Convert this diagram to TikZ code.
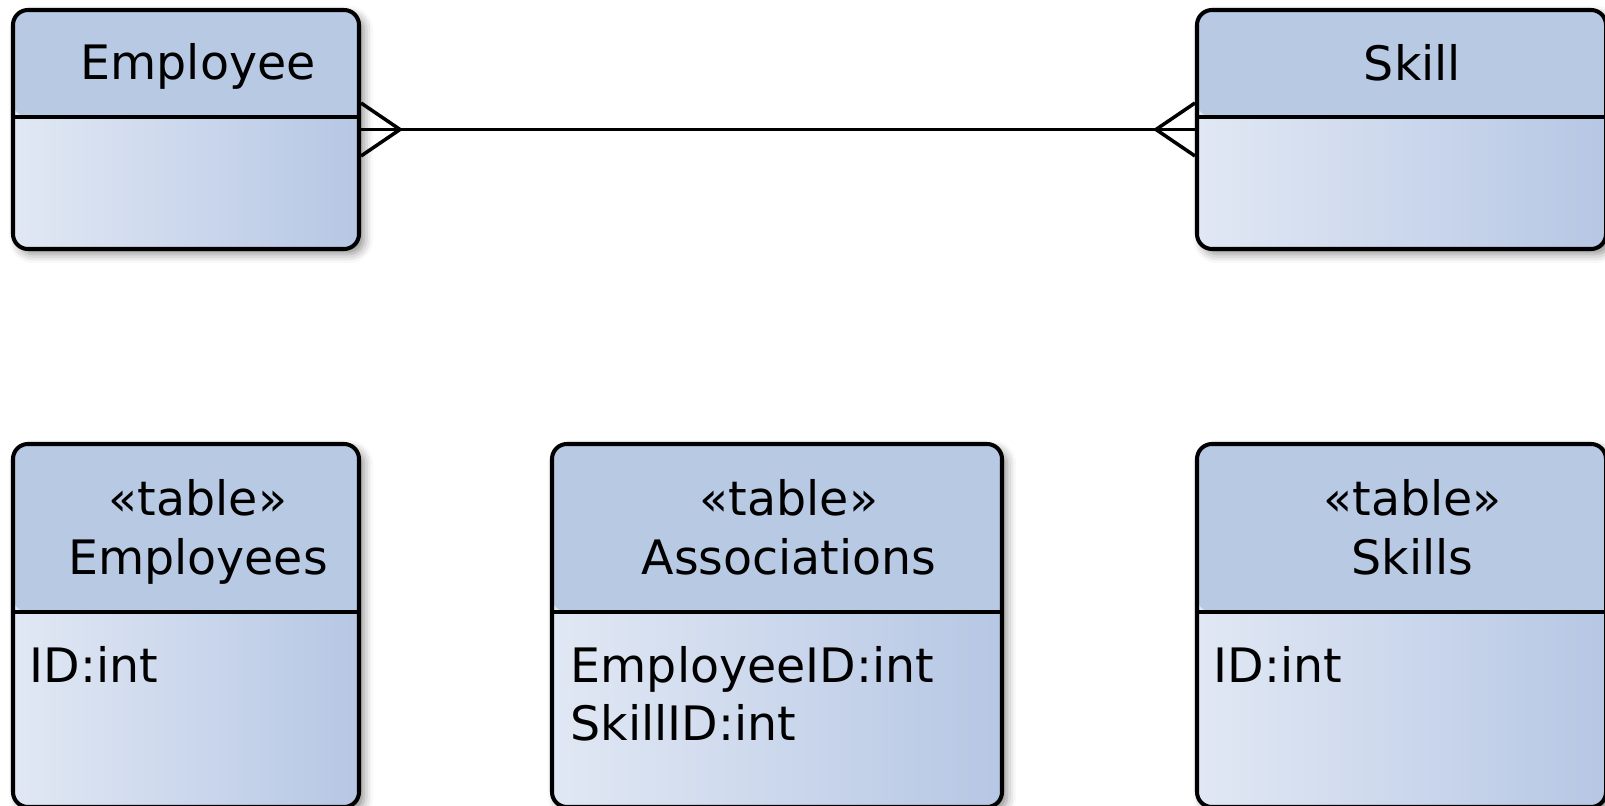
\documentclass[tikz,border=0pt]{standalone}
\usepackage{fontspec}
\setmainfont{DejaVu Sans}
\usepackage{tikz}
\usetikzlibrary{calc}
\usetikzlibrary{positioning}
\usetikzlibrary{shadows.blur}
\definecolor{headblue}{RGB}{184,201,227}
\definecolor{bodylight}{RGB}{225,232,244}
\definecolor{bodydark}{RGB}{182,199,228}
\tikzset{entity/.style={draw, line width=1.15pt, rounded corners=0.15cm, inner sep=0,
  left color=bodylight, right color=bodydark,
  blur shadow={shadow xshift=0.05cm, shadow yshift=-0.05cm, shadow blur radius=0.09cm, shadow opacity=45},
  path picture={
    \fill [headblue] (path picture bounding box.north west) rectangle ([yshift=-#1]path picture bounding box.north east);
    \draw [line width=1.15pt] ([yshift=-#1]path picture bounding box.north west) -- ([yshift=-#1]path picture bounding box.north east);
  }}}
\tikzstyle{label} = [draw=none, inner sep=0, anchor=base, font=\fontsize{13.5}{16.5}\selectfont]
\tikzstyle{attr} = [draw=none, inner sep=0, anchor=base west, font=\fontsize{13.5}{16.5}\selectfont]
\tikzstyle{link} = [-, line width=1pt]

\begin{document}
\begin{tikzpicture}
\useasboundingbox (0,0) rectangle (16.05,-8.06);
% conceptual model
\node [entity=1.07cm, minimum width=3.46cm, minimum height=2.39cm] (Emp) at (1.86, -1.295) {};
\node [entity=1.07cm, minimum width=4.09cm, minimum height=2.39cm] (Skill) at (14.015, -1.295) {};
\node [label] (EmpT) at ($(Emp.north)+(0.12,-0.72)$) {Employee};
\node [label] (SkillT) at ($(Skill.north)+(0.11,-0.73)$) {Skill};
\draw [link] (Emp.east) to (Skill.west);
\draw [link] ($(Emp.east)+(0,0.265)$) -- ($(Emp.east)+(0.39,0)$) -- ($(Emp.east)+(0,-0.265)$);
\draw [link] ($(Skill.west)+(0,0.265)$) -- ($(Skill.west)+(-0.39,0)$) -- ($(Skill.west)+(0,-0.265)$);
% tables
\node [entity=1.68cm, minimum width=3.46cm, minimum height=3.63cm] (Emps) at (1.86, -6.255) {};
\node [entity=1.68cm, minimum width=4.50cm, minimum height=3.63cm] (Assoc) at (7.77, -6.255) {};
\node [entity=1.68cm, minimum width=4.09cm, minimum height=3.63cm] (Skls) at (14.015, -6.255) {};
\node [label] (EmpsS) at ($(Emps.north)+(0.12,-0.74)$) {«table»};
\node [label] (EmpsT) at ($(Emps.north)+(0.12,-1.33)$) {Employees};
\node [label] (AssocS) at ($(Assoc.north)+(0.12,-0.74)$) {«table»};
\node [label] (AssocT) at ($(Assoc.north)+(0.12,-1.33)$) {Associations};
\node [label] (SklsS) at ($(Skls.north)+(0.11,-0.74)$) {«table»};
\node [label] (SklsT) at ($(Skls.north)+(0.11,-1.33)$) {Skills};
\node [attr] (EmpsA) at ($(Emps.north west)+(0.18,-2.41)$) {ID:int};
\node [attr] (AssocA) at ($(Assoc.north west)+(0.20,-2.41)$) {EmployeeID:int};
\node [attr] (AssocB) at ($(Assoc.north west)+(0.20,-2.99)$) {SkillID:int};
\node [attr] (SklsA) at ($(Skls.north west)+(0.18,-2.41)$) {ID:int};
\end{tikzpicture}
\end{document}
